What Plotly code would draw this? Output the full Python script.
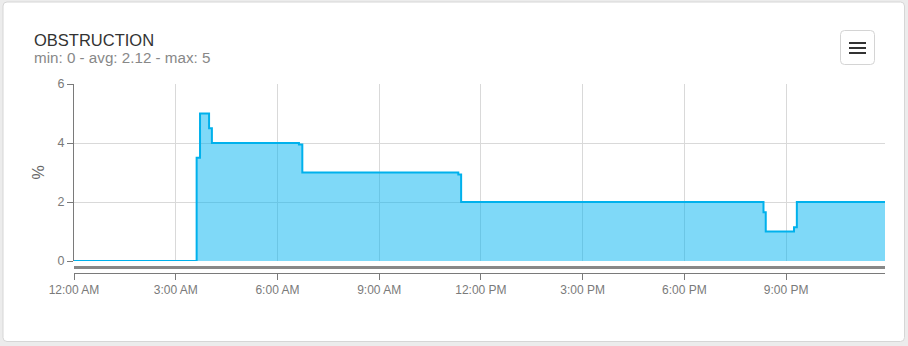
import plotly.graph_objects as go

# ---- data ----
day = "2024-01-01"
times = ["00:00", "03:37", "03:43", "03:59", "04:04", "06:38", "06:44",
         "11:20", "11:25", "20:20", "20:24", "21:14", "21:19", "23:55"]
values = [0, 3.5, 5, 4.5, 4, 3.95, 3, 2.93, 2, 1.65, 1, 1.14, 2, 2]
title_text = "OBSTRUCTION"
subtitle_text = "min: 0 - avg: 2.12 - max: 5"
y_title = "%"
y_ticks = [0, 2, 4, 6]

x = [f"{day} {t}" for t in times]

W, H = 908, 346
L, R, T, B = 74, 885, 84, 273   # pixel box of the paper area
ZERO_Y = 261                    # pixel row of y = 0

def px(v):
    return (v - L) / (R - L)

def py(v):
    return (B - v) / (B - T)

FONT = "Liberation Sans, Arial, sans-serif"

fig = go.Figure()
fig.add_trace(go.Scatter(
    x=x, y=values, mode="lines", line=dict(shape="hv", color="#00b1ec", width=2),
    fill="tozeroy", fillcolor="rgba(0,180,242,0.5)", hoverinfo="x+y",
    showlegend=False,
))
# carrier trace for the bottom (offset) axis
fig.add_trace(go.Scatter(
    x=x, y=values, xaxis="x2", mode="lines", line=dict(width=0, color="rgba(0,0,0,0)"),
    hoverinfo="skip", showlegend=False,
))

xrange = [f"{day} 00:00", f"{day} 23:55"]

def rrect(x0, y0, x1, y1, r):
    return (f"M {px(x0+r)},{py(y0)} L {px(x1-r)},{py(y0)} Q {px(x1)},{py(y0)} {px(x1)},{py(y0+r)} "
            f"L {px(x1)},{py(y1-r)} Q {px(x1)},{py(y1)} {px(x1-r)},{py(y1)} "
            f"L {px(x0+r)},{py(y1)} Q {px(x0)},{py(y1)} {px(x0)},{py(y1-r)} "
            f"L {px(x0)},{py(y0+r)} Q {px(x0)},{py(y0)} {px(x0+r)},{py(y0)} Z")

shapes = [
    # card
    dict(type="path", xref="paper", yref="paper", path=rrect(3, 2, 904.5, 341.5, 4),
         fillcolor="white", line=dict(color="#d6d6d6", width=1), layer="below"),
    # grey band under the plot
    dict(type="line", xref="paper", yref="paper", x0=0, x1=1,
         y0=py(267.5), y1=py(267.5), line=dict(color="#888888", width=3)),
    # menu button
    dict(type="path", xref="paper", yref="paper", path=rrect(840.5, 30.5, 874.5, 64.5, 4),
         fillcolor="white", line=dict(color="#d4d4d4", width=1)),
]
for yy in (43, 48, 53):
    shapes.append(dict(type="line", xref="paper", yref="paper", x0=px(849), x1=px(866),
                       y0=py(yy), y1=py(yy), line=dict(color="#333333", width=2)))

annotations = [
    dict(text=title_text, xref="paper", yref="paper", x=px(31.5), y=py(39.5),
         xanchor="left", yanchor="middle", showarrow=False,
         font=dict(family=FONT, size=16.5, color="#333333")),
    dict(text=subtitle_text, xref="paper", yref="paper", x=px(31.5), y=py(57.5),
         xanchor="left", yanchor="middle", showarrow=False,
         font=dict(family=FONT, size=15.2, color="#888888")),
]

fig.update_layout(
    width=W, height=H,
    margin=dict(l=L, r=W - R, t=T, b=H - B, pad=0),
    paper_bgcolor="#ececec", plot_bgcolor="rgba(0,0,0,0)",
    font=dict(family=FONT, color="#7a7a7a"),
    shapes=shapes, annotations=annotations, showlegend=False,
    xaxis=dict(type="date", range=xrange, anchor="y", showgrid=True, gridcolor="#d9d9d9",
               gridwidth=1, showticklabels=False, ticks="", showline=False, zeroline=False,
               tick0=f"{day} 00:00", dtick=3 * 3600 * 1000),
    xaxis2=dict(type="date", range=xrange, matches="x", overlaying="x", anchor="free", position=0,
                showgrid=False, showline=True, linecolor="#7a7a7a", linewidth=1,
                ticks="outside", ticklen=6, tickcolor="#7a7a7a",
                tick0=f"{day} 00:00", dtick=3 * 3600 * 1000, tickformat="%-I:%M %p",
                tickfont=dict(family=FONT, size=12, color="#7a7a7a"), zeroline=False),
    yaxis=dict(domain=[py(ZERO_Y), 1], range=[0, 6], tickvals=y_ticks, showgrid=True,
               gridcolor="#d9d9d9", zeroline=False, showline=True, linecolor="#7a7a7a",
               ticks="outside", ticklen=6, tickcolor="#7a7a7a",
               tickfont=dict(family=FONT, size=12.5, color="#7a7a7a"),
               title=dict(text=y_title, standoff=8, font=dict(family=FONT, size=16, color="#666666"))),
)

fig.write_html("out.html")
